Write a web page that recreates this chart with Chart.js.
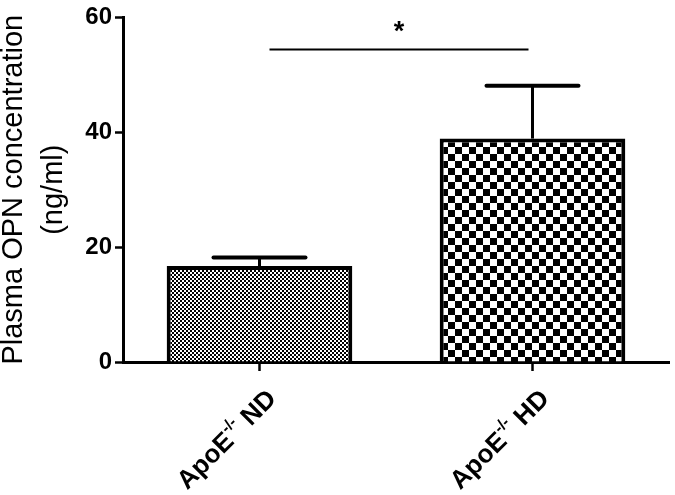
<!DOCTYPE html>
<html>
<head>
<meta charset="utf-8">
<script src="https://cdn.jsdelivr.net/npm/chart.js@4/dist/chart.umd.min.js"></script>
<style>
html,body{margin:0;padding:0;background:#fff;}
#wrap{width:675px;height:495px;}
</style>
</head>
<body>
<div id="wrap"><canvas id="c" width="675" height="495"></canvas></div>
<script>
// ---- data ----
const categoryBase = ["ApoE", "ApoE"];
const categorySup = ["-/-", "-/-"];
const categoryTail = [" ND", " HD"];
const meanValues = [16.7, 38.9];
const errorValues = [1.5, 9.2];
const yTicks = [0, 20, 40, 60];
const yTitle = ["Plasma OPN concentration", "(ng/ml)"];
const sigLevel = [54.4];
const sigMark = ["*"];

const FONT = '"Liberation Sans", Arial, Helvetica, sans-serif';

function makePattern(cell, dark) {
  const p = document.createElement('canvas');
  p.width = cell * 2; p.height = cell * 2;
  const g = p.getContext('2d');
  g.fillStyle = '#fff';
  g.fillRect(0, 0, cell * 2, cell * 2);
  g.fillStyle = dark;
  g.fillRect(0, 0, cell, cell);
  g.fillRect(cell, cell, cell, cell);
  return g.createPattern(p, 'repeat');
}
const fine = makePattern(2, '#000');
const coarse = makePattern(7, '#000');

const labels = categoryBase.map((b, i) => b + categorySup[i] + categoryTail[i]);

const overlay = {
  id: 'overlay',
  afterDatasetsDraw(chart) {
    const ctx = chart.ctx;
    const xs = chart.scales.x, ys = chart.scales.y;
    ctx.save();
    ctx.strokeStyle = '#000';
    // error bars (upward only)
    meanValues.forEach((v, i) => {
      const x = xs.getPixelForValue(i);
      const y0 = ys.getPixelForValue(v);
      const y1 = ys.getPixelForValue(v + errorValues[i]);
      ctx.lineCap = 'butt';
      ctx.lineWidth = 3;
      ctx.beginPath(); ctx.moveTo(x, y0); ctx.lineTo(x, y1); ctx.stroke();
      ctx.lineCap = 'round';
      ctx.lineWidth = 4;
      ctx.beginPath(); ctx.moveTo(x - 46, y1); ctx.lineTo(x + 46, y1); ctx.stroke();
    });
    // significance line
    const sx0 = xs.getPixelForValue(0) + 10;
    const sx1 = xs.getPixelForValue(1) - 4;
    const sy = ys.getPixelForValue(sigLevel[0]);
    ctx.lineCap = 'butt';
    ctx.lineWidth = 2;
    ctx.beginPath(); ctx.moveTo(sx0, sy); ctx.lineTo(sx1, sy); ctx.stroke();
    ctx.fillStyle = '#000';
    ctx.font = 'bold 27px ' + FONT;
    ctx.textAlign = 'center';
    ctx.textBaseline = 'alphabetic';
    ctx.fillText(sigMark[0], (sx0 + sx1) / 2, sy - 10);
    // rotated x labels with superscript
    const big = 'bold 26px ' + FONT, small = 'bold 16px ' + FONT;
    categoryBase.forEach((b, i) => {
      const x = xs.getPixelForValue(i);
      ctx.font = big; const w1 = ctx.measureText(b).width; const w3 = ctx.measureText(categoryTail[i]).width;
      ctx.font = small; const w2 = ctx.measureText(categorySup[i]).width;
      const total = w1 + w2 + w3;
      ctx.save();
      ctx.translate(x + 13, 395);
      ctx.rotate(-Math.PI / 4);
      ctx.textAlign = 'left';
      ctx.textBaseline = 'middle';
      let cx = -total;
      ctx.font = big; ctx.fillText(b, cx, 0); cx += w1;
      ctx.font = small; ctx.fillText(categorySup[i], cx, -9); cx += w2;
      ctx.font = big; ctx.fillText(categoryTail[i], cx, 0);
      ctx.restore();
    });
    ctx.restore();
  }
};

new Chart(document.getElementById('c'), {
  type: 'bar',
  data: {
    labels: labels,
    datasets: [{
      data: meanValues,
      backgroundColor: [fine, coarse],
      borderColor: '#000',
      borderWidth: 4,
      borderSkipped: 'start',
      categoryPercentage: 1,
      barPercentage: 0.68
    }]
  },
  options: {
    responsive: false,
    animation: false,
    devicePixelRatio: 1,
    layout: { padding: { left: 0, top: 14, right: 6, bottom: 0 } },
    plugins: { legend: { display: false }, tooltip: { enabled: false } },
    scales: {
      x: {
        offset: true,
        grid: { offset: false, drawOnChartArea: false, drawTicks: true, tickLength: 9, tickWidth: 2.5, tickColor: '#000' },
        border: { display: true, color: '#000', width: 3 },
        ticks: { display: false },
        afterFit(s) { s.height = 495 - 362; }
      },
      y: {
        min: 0, max: 60,
        afterBuildTicks(s) { s.ticks = yTicks.map(v => ({ value: v })); },
        grid: { drawOnChartArea: false, drawTicks: true, tickLength: 8, tickWidth: 2.5, tickColor: '#000' },
        border: { display: true, color: '#000', width: 3 },
        ticks: { color: '#000', padding: 3, font: { family: FONT, size: 24, weight: 'bold' } },
        title: {
          display: true, text: yTitle, color: '#000',
          font: { family: FONT, size: 29, weight: 'normal', lineHeight: 1.38 },
          padding: { top: -6, bottom: 0 }
        },
        afterFit(s) { s.width = 123; }
      }
    }
  },
  plugins: [overlay]
});
</script>
</body>
</html>
